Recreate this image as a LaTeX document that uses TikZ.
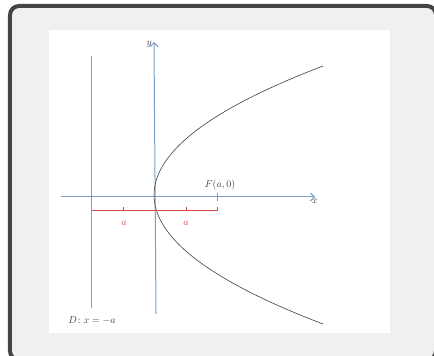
\documentclass[tikz,border=0pt]{standalone}
\usetikzlibrary{arrows.meta}
\definecolor{axisblue}{HTML}{7C9FC9}
\definecolor{dirgreen}{HTML}{5DB98A}
\definecolor{markred}{HTML}{D44A4A}
\definecolor{framegray}{HTML}{454545}
\definecolor{panelgray}{HTML}{F0F0F0}
\definecolor{curvegray}{HTML}{404040}
\begin{document}
\begin{tikzpicture}[x=1pt,y=1pt,
  axisline/.style={axisblue, line width=1pt, -{Straight Barb[length=4pt,width=8pt]}},
  redline/.style={draw=markred, line width=1pt},
  lbl/.style={text=curvegray, inner sep=1pt}]
\useasboundingbox (-154,-159) rectangle (280,197);
\draw[framegray, line width=4pt, fill=panelgray, rounded corners=9pt] (-144,191) rectangle (282,-163);
\fill[white] (-105,167) rectangle (236,-136);
\coordinate (xs) at (-93,0);
\coordinate (xe) at (161,0);
\coordinate (ys) at (2,-117);
\coordinate (ye) at (0,155);
\coordinate (D1) at (-62,141);
\coordinate (D2) at (-62,-111);
\coordinate (P1) at (169,131);
\coordinate (P2) at (169,-127);
\coordinate (C1) at (-56.3,45);
\coordinate (C2) at (-56.3,-41);
\coordinate (F) at (63,0);
\coordinate (B1) at (-62,-14);
\coordinate (B2) at (63,-14);
\draw[dirgreen, line width=1pt] (D1) -- (D2);
\draw[axisline] (xs) -- (xe);
\draw[axisline] (ys) -- (ye);
\draw[axisblue, line width=1pt] ([yshift=4pt]F) -- ([yshift=-4pt]F);
\draw[curvegray, line width=0.6pt] (P1) .. controls (C1) and (C2) .. (P2);
\draw[redline] (B1) -- (B2) -- ([yshift=4pt]B2);
\foreach \t/\n in {-30/la,32/lb}{
  \draw[redline] (\t,-14) -- (\t,-10);
  \node[text=markred, inner sep=1pt] (\n) at (\t,-26) {$a$};
}
\node[lbl, anchor=north] (xl) at (161,-1) {$x$};
\node[lbl, anchor=east] (yl) at (-1,153) {$y$};
\node[lbl, anchor=south] (fl) at (66,6) {$F(a,0)$};
\node[lbl] (dl) at (-62,-123) {$D\!:x=-a$};
\end{tikzpicture}
\end{document}
